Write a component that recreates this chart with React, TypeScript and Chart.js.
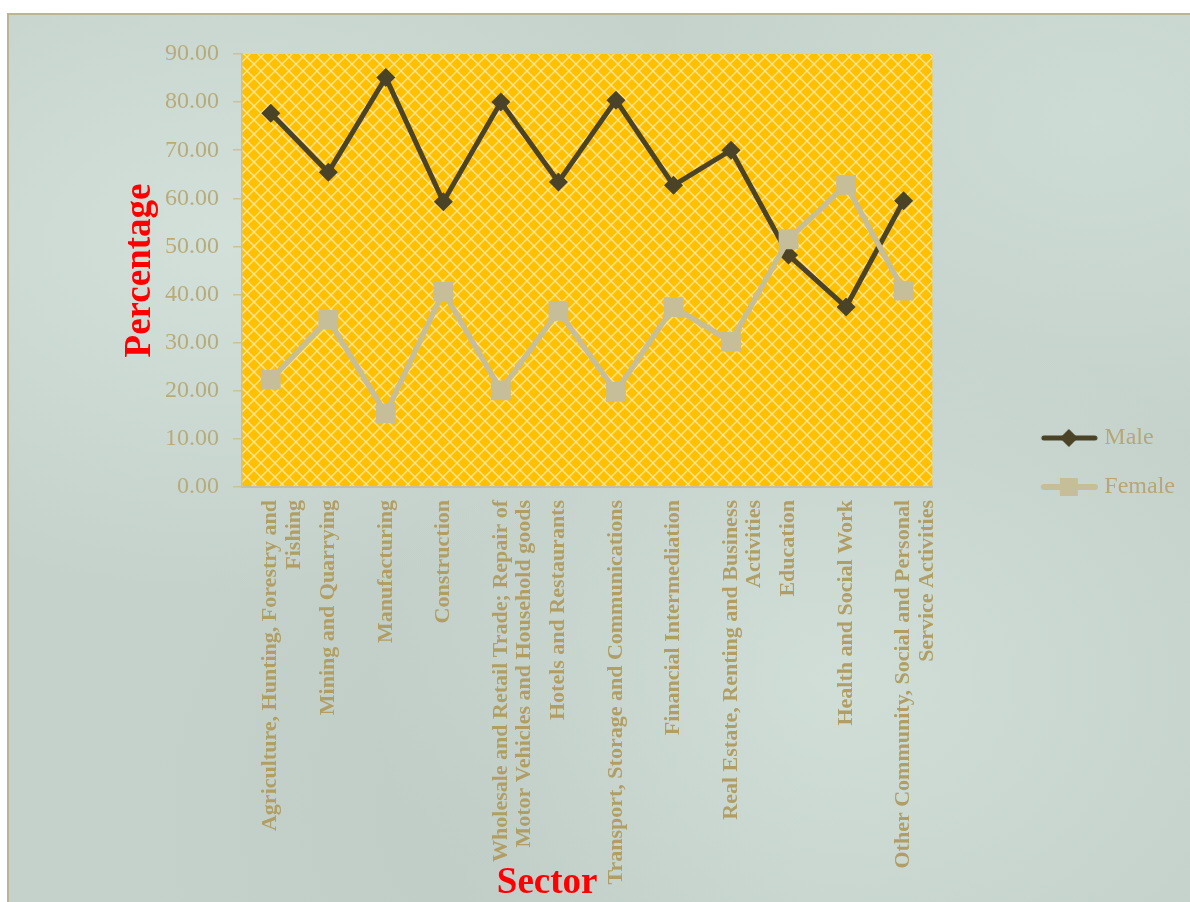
import React, { useEffect, useRef } from 'react';
import { Chart, registerables } from 'chart.js';

Chart.register(...registerables);

const sectorLabels: (string | string[])[] = [
  ['Agriculture, Hunting, Forestry and', 'Fishing'],
  'Mining and Quarrying',
  'Manufacturing',
  'Construction',
  ['Wholesale and Retail Trade; Repair of', 'Motor Vehicles and Household goods'],
  'Hotels and Restaurants',
  'Transport, Storage and Communications',
  'Financial Intermediation',
  ['Real Estate, Renting and Business', 'Activities'],
  'Education',
  'Health and Social Work',
  ['Other Community, Social and Personal', 'Service Activities'],
];

const maleValues = [77.7, 65.4, 85.1, 59.3, 80.0, 63.4, 80.4, 62.7, 70.0, 48.2, 37.4, 59.5];
const femaleValues = [22.3, 34.8, 15.3, 40.6, 20.1, 36.6, 19.8, 37.4, 30.2, 51.5, 62.8, 40.8];

const seriesNames = ['Male', 'Female'];
const xAxisTitle = 'Sector';
const yAxisTitle = 'Percentage';
const yMin = 0;
const yMax = 90;
const yStep = 10;

const MALE_COLOR = '#4a4327';
const FEMALE_COLOR = '#c6be98';
const FONT = '"Liberation Serif", "Times New Roman", serif';

function makeLegendImage(kind: 'male' | 'female'): HTMLCanvasElement {
  const c = document.createElement('canvas');
  c.width = 146;
  c.height = 24;
  const g = c.getContext('2d')!;
  g.lineCap = 'round';
  const cy = 12;
  const cx = 117;
  if (kind === 'male') {
    g.strokeStyle = MALE_COLOR;
    g.lineWidth = 5;
    g.beginPath();
    g.moveTo(92, cy);
    g.lineTo(143, cy);
    g.stroke();
    g.fillStyle = MALE_COLOR;
    g.beginPath();
    g.moveTo(cx, cy - 9);
    g.lineTo(cx + 9, cy);
    g.lineTo(cx, cy + 9);
    g.lineTo(cx - 9, cy);
    g.closePath();
    g.fill();
  } else {
    g.strokeStyle = FEMALE_COLOR;
    g.lineWidth = 6;
    g.beginPath();
    g.moveTo(92, cy);
    g.lineTo(143, cy);
    g.stroke();
    g.fillStyle = FEMALE_COLOR;
    g.fillRect(cx - 9, cy - 9, 18, 18);
  }
  return c;
}

function makePattern(ctx: CanvasRenderingContext2D): CanvasPattern | string {
  const s = 14;
  const p = document.createElement('canvas');
  p.width = s;
  p.height = s;
  const g = p.getContext('2d')!;
  g.fillStyle = '#ffc000';
  g.fillRect(0, 0, s, s);
  g.strokeStyle = 'rgba(255, 232, 165, 0.9)';
  g.lineWidth = 1.4;
  g.beginPath();
  g.moveTo(-2, -2);
  g.lineTo(s + 2, s + 2);
  g.moveTo(s + 2, -2);
  g.lineTo(-2, s + 2);
  g.stroke();
  return ctx.createPattern(p, 'repeat') || '#ffc000';
}

const plotAreaPlugin = {
  id: 'plotAreaPattern',
  beforeDraw(chart: any) {
    const { ctx, chartArea } = chart;
    if (!chartArea) return;
    ctx.save();
    ctx.fillStyle = makePattern(ctx);
    ctx.fillRect(chartArea.left, chartArea.top, chartArea.right - chartArea.left, chartArea.bottom - chartArea.top);
    ctx.restore();
  },
};

// x-axis title, placed like the original (left of the plot centre, over the label band)
const xTitlePlugin = {
  id: 'xAxisTitle',
  afterDraw(chart: any) {
    const { ctx, chartArea } = chart;
    if (!chartArea) return;
    ctx.save();
    ctx.font = `bold 37px ${FONT}`;
    ctx.fillStyle = '#ff0000';
    ctx.textAlign = 'center';
    ctx.textBaseline = 'middle';
    ctx.fillText(xAxisTitle, (chartArea.left + chartArea.right) / 2 - 40, chart.height - 19);
    ctx.restore();
  },
};

export default function App() {
  const canvasRef = useRef<HTMLCanvasElement | null>(null);

  useEffect(() => {
    const canvas = canvasRef.current;
    if (!canvas) return;
    const legendImages = [makeLegendImage('male'), makeLegendImage('female')];

    const chart = new Chart(canvas, {
      type: 'line',
      data: {
        labels: sectorLabels,
        datasets: [
          {
            label: seriesNames[0],
            data: maleValues,
            borderColor: MALE_COLOR,
            backgroundColor: MALE_COLOR,
            borderWidth: 5,
            pointStyle: 'rectRot',
            pointRadius: 9.5,
            pointBorderWidth: 0,
            pointBackgroundColor: MALE_COLOR,
            tension: 0,
            order: 1,
          },
          {
            label: seriesNames[1],
            data: femaleValues,
            borderColor: FEMALE_COLOR,
            backgroundColor: FEMALE_COLOR,
            borderWidth: 5.5,
            pointStyle: 'rect',
            pointRadius: 14,
            pointBorderWidth: 0,
            pointBackgroundColor: FEMALE_COLOR,
            tension: 0,
            order: 0,
          },
        ],
      },
      options: {
        responsive: false,
        animation: false,
        events: [],
        layout: { padding: { top: 39, left: 105, right: 5, bottom: 0 } },
        plugins: {
          tooltip: { enabled: false },
          legend: {
            position: 'right',
            align: 'start',
            title: {
              display: true,
              text: '',
              font: { family: FONT, size: 10, lineHeight: 1 },
              padding: { top: 337, bottom: 0 },
            },
            labels: {
              usePointStyle: true,
              pointStyleWidth: 135,
              padding: 25,
              color: '#b5a776',
              font: { family: FONT, size: 24 },
              sort: (a: any, b: any) => a.datasetIndex - b.datasetIndex,
              generateLabels: (ch: any) => {
                const items = Chart.defaults.plugins.legend.labels.generateLabels(ch);
                return items.map((it: any) => ({
                  ...it,
                  pointStyle: legendImages[it.datasetIndex],
                  fontColor: '#b5a776',
                }));
              },
            },
          },
        },
        scales: {
          x: {
            type: 'category',
            offset: true,
            afterFit: (scale: any) => {
              scale.height = 415;
            },
            grid: { display: false, drawTicks: false },
            border: { display: true, color: '#c4bfa8', width: 2 },
            ticks: {
              autoSkip: false,
              minRotation: 90,
              maxRotation: 90,
              padding: 13,
              color: '#b09e64',
              font: { family: FONT, size: 22, weight: 'bold', lineHeight: 1.08 },
            },
            title: { display: false },
          },
          y: {
            min: yMin,
            max: yMax,
            afterFit: (scale: any) => {
              scale.width = 128;
            },
            grid: {
              drawOnChartArea: false,
              drawTicks: true,
              tickLength: 9,
              color: '#c9c1a1',
              lineWidth: 1.5,
            },
            border: { display: true, color: '#c9c1a1', width: 1.5 },
            ticks: {
              stepSize: yStep,
              padding: 14,
              color: '#b8ab7a',
              font: { family: FONT, size: 24 },
              callback: (v: any) => Number(v).toFixed(2),
            },
            title: {
              display: true,
              text: yAxisTitle,
              color: '#ff0000',
              font: { family: FONT, size: 37, weight: 'bold' },
              padding: { top: 4, bottom: 4 },
            },
          },
        },
      },
      plugins: [plotAreaPlugin, xTitlePlugin],
    });

    return () => {
      chart.destroy();
    };
  }, []);

  return (
    <div
      style={{
        position: 'absolute',
        left: 7,
        top: 13,
        width: 1183,
        height: 889,
        boxSizing: 'border-box',
        borderTop: '2px solid #bbb495',
        borderLeft: '2px solid #bbb495',
        background:
          'radial-gradient(ellipse at 18% 25%, rgba(222,236,230,0.55), rgba(222,236,230,0) 38%),' +
          'radial-gradient(ellipse at 70% 75%, rgba(220,234,228,0.5), rgba(220,234,228,0) 40%),' +
          'radial-gradient(ellipse at 92% 12%, rgba(214,229,223,0.5), rgba(214,229,223,0) 30%),' +
          'radial-gradient(ellipse at 40% 90%, rgba(184,196,190,0.4), rgba(184,196,190,0) 35%),' +
          '#c5d2cc',
        overflow: 'hidden',
      }}
    >
      <canvas ref={canvasRef} width={1181} height={887} style={{ display: 'block' }} />
    </div>
  );
}
